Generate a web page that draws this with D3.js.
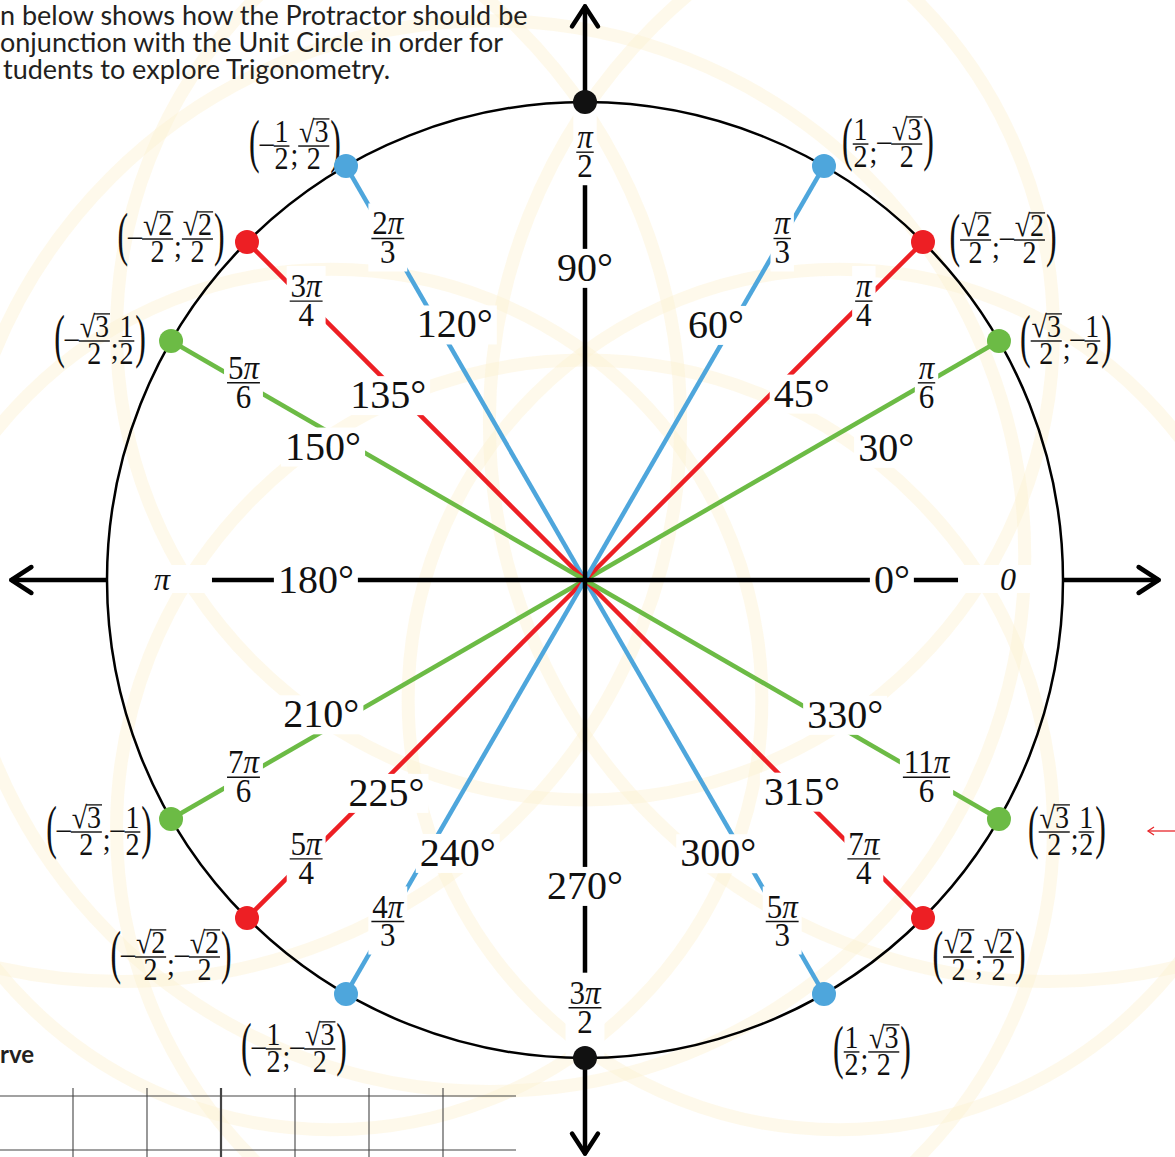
<!DOCTYPE html>
<html>
<head>
<meta charset="utf-8">
<script src="https://cdn.jsdelivr.net/npm/d3@7"></script>
<style>
  body { margin: 0; background: #fff; }
  svg { display: block; }
</style>
</head>
<body>
<svg id="chart"></svg>
<script>
// ---- data ----
const angles    = [0, 30, 45, 60, 90, 120, 135, 150, 180, 210, 225, 240, 270, 300, 315, 330];
const degLabels = ["0°", "30°", "45°", "60°", "90°", "120°", "135°", "150°", "180°", "210°", "225°", "240°", "270°", "300°", "315°", "330°"];
const radNum    = ["0", "π", "π", "π", "π", "2π", "3π", "5π", "π", "7π", "5π", "4π", "3π", "5π", "7π", "11π"];
const radDen    = ["", "6", "4", "3", "2", "3", "4", "6", "", "6", "4", "3", "2", "3", "4", "6"];
const family    = ["axis", "green", "red", "blue", "axis", "blue", "red", "green", "axis", "green", "red", "blue", "axis", "blue", "red", "green"];

// point labels, as printed on the sheet
const ptAngles = [30, 45, 60, 120, 135, 150, 210, 225, 240, 300, 315, 330];
const ptX = ["√3/2", "√2/2", "1/2", "-1/2", "-√2/2", "-√3/2", "-√3/2", "-√2/2", "-1/2", "1/2", "√2/2", "√3/2"];
const ptY = ["-1/2", "-√2/2", "-√3/2", "√3/2", "√2/2", "1/2", "-1/2", "-√2/2", "-√3/2", "√3/2", "√2/2", "1/2"];

const introLines = [
  "n below shows how the Protractor should be",
  "onjunction with the Unit Circle in order for",
  "tudents to explore Trigonometry."
];

// ---- layout ----
const width = 1175, height = 1157;
const cx = 585, cy = 580, R = 478;
const colors = {axis: "#111", green: "#6cbb45", red: "#ed1f24", blue: "#4ea6dc"};
const SERIF = '"Liberation Serif", "Times New Roman", Tinos';
// where the degree labels sit (radius ratio, angle)
const degAt = [[.642, 0], [.688, 23.7], [.598, 40.7], [.600, 62.8], [.653, 90], [.600, 117], [.565, 136.8], [.615, 153],
               [.563, 180], [.619, 207], [.609, 227], [.630, 245], [.640, 270], [.636, 296], [.634, 315.7], [.613, 332.6]];
// offset of point labels from their dot
const ptOffset = [[67, 0], [80, -2], [64, -22], [-51, -20], [-76, -3], [-71, 0],
                  [-72, 13], [-76, 39], [-52, 55], [48, 58], [56, 39], [68, 13]];

const xScale = d3.scaleLinear().domain([-1, 1]).range([cx - R, cx + R]);
const yScale = d3.scaleLinear().domain([-1, 1]).range([cy + R, cy - R]);
const rad = d => d * Math.PI / 180;
const pt = (a, r) => [xScale(r * Math.cos(rad(a))), yScale(r * Math.sin(rad(a)))];

const svg = d3.select("#chart").attr("width", width).attr("height", height);

// faint protractor outlines in the background
const rings = [[-0.53, -0.25, 0.9], [0.53, -0.25, 0.9], [0, 0.52, 0.98], [0, -0.52, 0.98],
               [-0.97, 0.33, 1.17], [0.97, 0.33, 1.17], [-0.2, 0.05, 1.12]];
svg.append("g").selectAll("circle").data(rings).join("circle")
  .attr("cx", d => xScale(d[0])).attr("cy", d => yScale(d[1]))
  .attr("r", d => d[2] * R)
  .attr("fill", "none").attr("stroke", "#fdf1d2").attr("stroke-opacity", 0.45).attr("stroke-width", 13);

// intro text (cut off at the page edge)
svg.append("g").selectAll("text").data(introLines).join("text")
  .attr("x", (d, i) => i === 2 ? 3 : 0).attr("y", (d, i) => 25 + i * 27)
  .style("font-family", "Lato, 'Open Sans', sans-serif").attr("font-size", 27).attr("fill", "#231f20")
  .text(d => d);

svg.append("text").attr("x", 0).attr("y", 1063)
  .style("font-family", "Lato, sans-serif").attr("font-weight", 700).attr("font-size", 24).attr("fill", "#231f20")
  .text("rve");

// grid fragment bottom left
const grid = svg.append("g").attr("stroke", "#444").attr("stroke-width", 1.1);
[1096, 1150].forEach(y => grid.append("line").attr("x1", 0).attr("x2", 516).attr("y1", y).attr("y2", y));
d3.range(6).forEach(i => {
  const x = 73 + i * 74;
  grid.append("line").attr("x1", x).attr("x2", x).attr("y1", 1088).attr("y2", height)
    .attr("stroke-width", i === 2 ? 2.2 : 1.1);
});

// rays to each point
const rayIdx = d3.range(angles.length).filter(i => family[i] !== "axis");
svg.append("g").selectAll("line").data(rayIdx).join("line")
  .attr("x1", xScale(0)).attr("y1", yScale(0))
  .attr("x2", i => pt(angles[i], 1)[0]).attr("y2", i => pt(angles[i], 1)[1])
  .attr("stroke", i => colors[family[i]]).attr("stroke-width", 4.5);

// axes with arrow heads
const axes = svg.append("g").attr("stroke", "#000").attr("stroke-width", 4.5).attr("fill", "none")
  .attr("stroke-linecap", "round").attr("stroke-linejoin", "round");
[0, 90].forEach(a => {
  const [x1, y1] = pt(a, 1.2), [x2, y2] = pt(a + 180, 1.2);
  axes.append("line").attr("x1", x1).attr("y1", y1).attr("x2", x2).attr("y2", y2);
});
[0, 90, 180, 270].forEach(a => {
  const tip = pt(a, 1.2), back = pt(a, 1.2 - 20 / R);
  const nx = -Math.sin(rad(a)) * 13, ny = -Math.cos(rad(a)) * 13;
  axes.append("path").attr("d", `M${back[0] + nx},${back[1] + ny}L${tip[0]},${tip[1]}L${back[0] - nx},${back[1] - ny}`);
});

// ---- text helpers ----
function txt(g) {
  return g.append("text").style("font-family", SERIF).attr("fill", "#111");
}
function rich(sel, s) {
  s.split(/(π)/).filter(Boolean).forEach(p =>
    sel.append("tspan").style("font-style", p === "π" ? "italic" : "normal").text(p));
}

// fraction with its bar on y = 0, left edge x0; returns right edge
function frac(g, x0, num, den, fs) {
  const n = txt(g).attr("y", -fs * 0.12).attr("font-size", fs).attr("text-anchor", "middle");
  rich(n, num);
  const d = txt(g).attr("y", fs * 0.74).attr("font-size", fs).attr("text-anchor", "middle");
  rich(d, den);
  const w = Math.max(n.node().getComputedTextLength(), d.node().getComputedTextLength()) + fs * 0.06;
  n.attr("x", x0 + w / 2);
  d.attr("x", x0 + w / 2);
  g.append("line").attr("x1", x0).attr("x2", x0 + w).attr("y1", 0).attr("y2", 0)
    .attr("stroke", "#111").attr("stroke-width", 1.3);
  if (num[0] === "√") {
    const node = n.node();
    const s = node.getStartPositionOfChar(1).x - 1, e = node.getEndPositionOfChar(num.length - 1).x + 1;
    const y = -fs * 0.12 - fs * 0.76;
    g.append("line").attr("x1", s).attr("x2", e).attr("y1", y).attr("y2", y)
      .attr("stroke", "#111").attr("stroke-width", 1.2);
  }
  return x0 + w;
}

function coordLabel(g, xs, ys, fs) {
  let x = 0;
  const put = (ch, size, y, sx) => {
    const t = txt(g).attr("x", x / sx).attr("y", y).attr("font-size", size).text(ch)
      .attr("transform", `scale(${sx},1)`);
    x += t.node().getComputedTextLength() * sx;
    return t;
  };
  const term = s => {
    if (s[0] === "-") { put("–", fs, fs * 0.22, 1); s = s.slice(1); }
    const [nu, de] = s.split("/");
    x = frac(g, x, nu, de, fs) + 1;
  };
  put("(", fs * 1.9, fs * 0.5, 0.6);
  term(xs);
  put(";", fs, fs * 0.6, 1);
  term(ys);
  put(")", fs * 1.9, fs * 0.5, 0.6);
  return x;
}

// ---- labels ----
const boxLayer = svg.append("g").attr("fill", "#fff");
const textLayer = svg.append("g");

function boxRect(pts) {
  const x0 = d3.min(pts, p => p[0]), x1 = d3.max(pts, p => p[0]);
  const y0 = d3.min(pts, p => p[1]), y1 = d3.max(pts, p => p[1]);
  boxLayer.append("rect").attr("x", x0).attr("y", y0).attr("width", x1 - x0).attr("height", y1 - y0);
}

// degree labels
angles.forEach((a, i) => {
  const [x, y] = pt(degAt[i][1], degAt[i][0]);
  const t = txt(textLayer).attr("x", x).attr("y", y + 13).attr("text-anchor", "middle")
    .attr("font-size", 40).text(degLabels[i]);
  const b = t.node().getBBox();
  boxRect([[b.x - 4, b.y + 4], [b.x + b.width + 4, b.y + b.height - 2]]);
});

// radian labels
angles.forEach((a, i) => {
  const onAxis = family[i] === "axis";
  const r = onAxis ? (a % 180 === 0 ? 0.885 : 0.895) : 0.825;
  const [x, y] = pt(a, r);
  if (radDen[i] === "") {
    const t = txt(textLayer).attr("x", x).attr("y", y + 10).attr("text-anchor", "middle")
      .attr("font-size", 32).style("font-style", "italic").text(radNum[i]);
    const b = t.node().getBBox();
    boxRect([[b.x, b.y + 4], [b.x + b.width, b.y + b.height - 4], pt(a, r - 50 / R), pt(a, 1)]);
  } else {
    const inner = textLayer.append("g");
    const w = frac(inner, 0, radNum[i], radDen[i], 31);
    inner.attr("transform", `translate(${x - w / 2},${y}) scale(1,1.08)`);
    const b = inner.node().getBBox();
    const pts = [[x - w / 2 - 3, y + b.y * 1.08 - 1], [x + w / 2 + 3, y + (b.y + b.height) * 1.08 + 1]];
    if (onAxis) pts.push(pt(a, 1));
    boxRect(pts);
  }
});

// point labels
ptAngles.forEach((a, i) => {
  const [x, y] = pt(a, 1);
  const g = textLayer.append("g");
  const w = coordLabel(g, ptX[i], ptY[i], 28);
  g.attr("transform", `translate(${x + ptOffset[i][0] - w / 2},${y + ptOffset[i][1]}) scale(1,1.1)`);
});

// unit circle
svg.append("circle").attr("cx", xScale(0)).attr("cy", yScale(0)).attr("r", xScale(1) - xScale(0))
  .attr("fill", "none").attr("stroke", "#000").attr("stroke-width", 2.5);

// dots on the circle
svg.append("g").selectAll("circle").data(d3.range(angles.length)).join("circle")
  .attr("cx", i => pt(angles[i], 1)[0]).attr("cy", i => pt(angles[i], 1)[1])
  .attr("r", i => angles[i] % 180 === 0 ? 0 : 12)
  .attr("fill", i => colors[family[i]]);

// small red pointer at the right margin
const ptr = svg.append("g").attr("stroke", "#e8262a").attr("stroke-width", 1.3).attr("fill", "none");
ptr.append("line").attr("x1", 1148).attr("x2", width).attr("y1", 831).attr("y2", 831);
ptr.append("path").attr("d", "M1154,827L1148,831L1154,835");
</script>
</body>
</html>
